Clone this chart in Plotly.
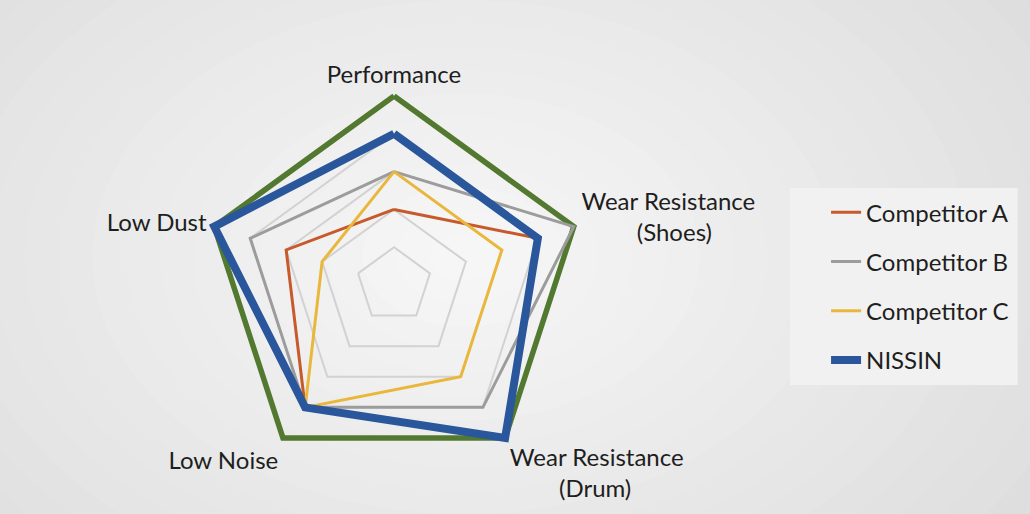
import plotly.graph_objects as go

NB = "\u00a0"
categories = ["Performance",
              "Wear Resistance<br>" + NB * 9 + "(Shoes)",
              "Wear Resistance<br>" + NB * 8 + "(Drum)",
              "Low Noise",
              "Low Dust"]
max_values = [5, 5, 5, 5, 5]
comp_a = [2, 4, 5, 4, 3]
comp_b = [3, 5, 4, 4, 4]
comp_c = [3, 3, 3, 4, 2]
nissin = [4, 4, 5, 4, 5]
grid_levels = [1, 2, 3, 4, 5]

def closed(v):
    return list(v) + [v[0]]

fig = go.Figure()

# smooth radial background (style only)
n_steps = 22
cx, cy = 0.45, 0.5
for i in range(n_steps):
    s = 1.0 - i / n_steps
    g = 0xdc + round(i * (0xf6 - 0xdc) / (n_steps - 1))
    col = "#%02x%02x%02x" % (g, g, g)
    fig.add_shape(type="circle", xref="paper", yref="paper",
                  x0=cx - 0.72 * s, x1=cx + 0.72 * s, y0=cy - 1.0 * s, y1=cy + 1.0 * s,
                  fillcolor=col, line=dict(width=0), layer="below")

# legend panel background
fig.add_shape(type="rect", xref="paper", yref="paper",
              x0=0.767, x1=0.988, y0=0.251, y1=0.634,
              fillcolor="#f1f1f1", line=dict(width=0), layer="below")

fig.add_trace(go.Scatterpolar(r=closed(max_values), theta=closed(categories), mode="lines",
                              line=dict(color="#52792F", width=5.5), showlegend=False,
                              hoverinfo="skip"))

series = [
    ("Competitor A", comp_a, "#C65A2C", 3),
    ("Competitor B", comp_b, "#9C9C9C", 3),
    ("Competitor C", comp_c, "#E9B73C", 3),
    ("NISSIN", nissin, "#2A579B", 8),
]
for name, vals, col, w in series:
    fig.add_trace(go.Scatterpolar(r=closed(vals), theta=closed(categories), mode="lines",
                                  name=name, legendgroup=name,
                                  line=dict(color=col, width=w)))

fig.update_layout(
    width=1030, height=514,
    margin=dict(l=0, r=0, t=0, b=0),
    paper_bgcolor="#e4e4e4",
    font=dict(family="Lato", size=24, color="#1e1e1e"),
    polar=dict(
        domain=dict(x=[0.1917, 0.5734], y=[0.063, 0.828]),
        bgcolor="rgba(0,0,0,0)",
        gridshape="linear",
        radialaxis=dict(range=[0, 5.2], tickvals=grid_levels, showticklabels=False,
                        ticks="", showline=False, gridcolor="#d2d2d2", gridwidth=2),
        angularaxis=dict(direction="clockwise", rotation=90, showgrid=False,
                         showline=False, ticks="",
                         tickfont=dict(family="Lato", size=24, color="#1e1e1e")),
    ),
    legend=dict(x=0.802, y=0.63, xanchor="left", yanchor="top",
                bgcolor="rgba(0,0,0,0)", borderwidth=0, traceorder="grouped",
                tracegroupgap=15, font=dict(family="Lato", size=24, color="#1e1e1e")),
)

fig.write_html("out.html", config={"displayModeBar": False},
               post_script="document.body.style.margin='0';")
